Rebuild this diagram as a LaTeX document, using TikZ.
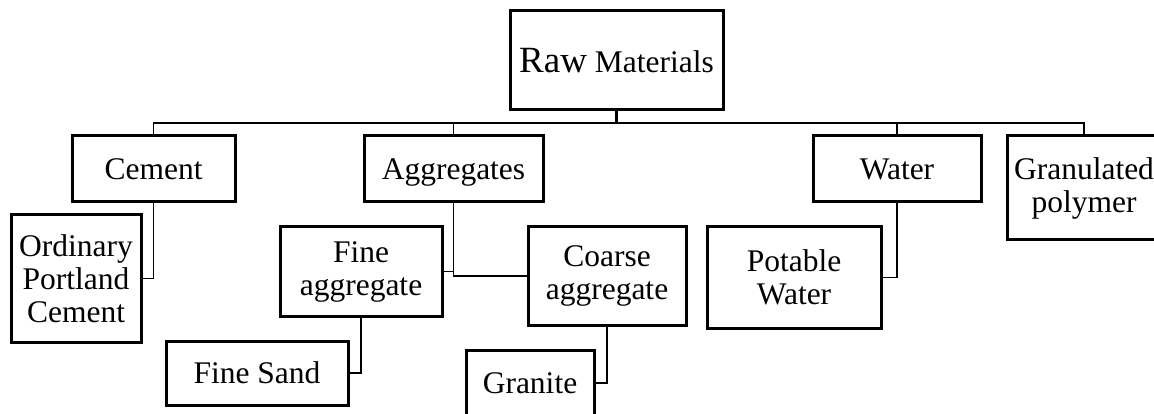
\documentclass[tikz,border=0pt]{standalone}
\usepackage{fontspec}
\setmainfont{Liberation Serif}
\newcommand{\boxfont}{\fontsize{31.5}{33}\selectfont}
\newcommand{\rawfont}{\fontsize{37}{40}\selectfont}

\begin{document}
\begin{tikzpicture}[x=1pt, y=-1pt,
  box/.style={draw, line width=3pt, inner sep=0pt, align=center, font=\boxfont},
  link/.style={line width=1.6pt}]
  \useasboundingbox (0,0) rectangle (1154,414);

  % Top
  \node[box, minimum width=213pt, minimum height=99pt] (raw) at (616.5,60.5) {{\rawfont Raw} Materials};
  \coordinate (bar) at (616.5,123);

  % First level
  \node[box, minimum width=163pt, minimum height=66pt] (cement) at (153.5,169) {Cement};
  \node[box, minimum width=179pt, minimum height=66pt, text depth=0pt] (aggr) at (453.5,169) {Aggregates};
  \node[box, minimum width=168pt, minimum height=66pt] (water) at (897,169) {Water};
  \node[box, minimum width=154pt, minimum height=104pt] (polymer) at (1084,188) {Granulated\\polymer};

  % Second level
  \node[box, minimum width=130pt, minimum height=127pt] (opc) at (76,278.5) {Ordinary\\Portland\\Cement};
  \node[box, minimum width=162pt, minimum height=89pt] (fineagg) at (361,271.5) {Fine\\aggregate};
  \node[box, minimum width=158pt, minimum height=98pt] (coarseagg) at (607,276) {Coarse\\aggregate};
  \node[box, minimum width=174pt, minimum height=101pt] (potable) at (794,277.5) {Potable\\Water};

  % Third level
  \node[box, minimum width=182pt, minimum height=64pt] (finesand) at (257,373) {Fine Sand};
  \node[box, minimum width=128pt, minimum height=66pt] (granite) at (530,383) {Granite};

  % Connectors
  \draw[line width=3pt] (raw.south) -- (bar);
  \draw[link] (cement.north) -- (cement.north |- bar) -- (polymer.north |- bar) -- (polymer.north);
  \draw[link] (aggr.north) -- (aggr.north |- bar);
  \draw[link] (water.north) -- (water.north |- bar);

  \draw[link] (cement.south) |- (opc.east);
  \draw[link] (fineagg.east) -| (aggr.south);
  \draw[link] (aggr.south) |- (coarseagg.west);
  \draw[link] (water.south) |- (potable.east);
  \draw[link] (fineagg.south) |- (finesand.east);
  \draw[link] (coarseagg.south) |- (granite.east);
\end{tikzpicture}
\end{document}
